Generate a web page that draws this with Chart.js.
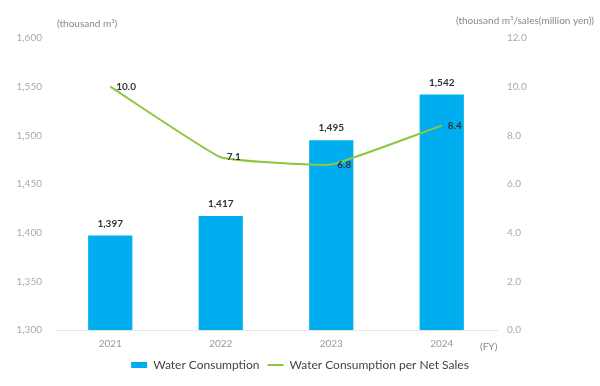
<!DOCTYPE html>
<html>
<head>
<meta charset="utf-8">
<script src="https://cdn.jsdelivr.net/npm/chart.js@4"></script>
<style>
  html, body { margin: 0; padding: 0; background: #fff; }
  #wrap { width: 600px; height: 386px; }
</style>
</head>
<body>
<div id="wrap"><canvas id="waterChart"></canvas></div>
<script>
// data
const years = ['2021', '2022', '2023', '2024'];
const waterUse = [1397, 1417, 1495, 1542];        // thousand m3
const waterPerSales = [10.0, 7.1, 6.8, 8.4];      // thousand m3 / sales (million yen)

const BLUE = '#00aeef';
const GREEN = '#8dc63f';
const FONT = "Lato, 'Open Sans', sans-serif";

// axis titles, (FY) and value labels
const extras = {
    id: 'extras',
    afterDatasetsDraw(chart) {
        const ctx = chart.ctx;
        const area = chart.chartArea;
        ctx.save();

        // bar values
        ctx.font = 'bold 10px ' + FONT;
        ctx.fillStyle = '#333';
        ctx.textAlign = 'center';
        ctx.textBaseline = 'middle';
        chart.getDatasetMeta(0).data.forEach((bar, i) => {
            ctx.fillText(waterUse[i].toLocaleString('en-US'), bar.x, bar.y - 12);
        });

        // line values, right of each point
        ctx.textAlign = 'left';
        chart.getDatasetMeta(1).data.forEach((pt, i) => {
            ctx.fillText(waterPerSales[i].toFixed(1), pt.x + 6, pt.y);
        });

        // axis titles
        ctx.font = '10px ' + FONT;
        ctx.fillStyle = '#888';
        ctx.textAlign = 'left';
        ctx.fillText('(thousand m³)', 57, 24);
        ctx.textAlign = 'right';
        ctx.fillText('(thousand m³/sales(million yen))', 594, 21);
        ctx.textAlign = 'left';
        ctx.fillText('(FY)', area.right - 17, 347);
        ctx.restore();
    }
};

new Chart(document.getElementById('waterChart'), {
    data: {
        labels: years,
        datasets: [
            {
                type: 'bar',
                label: 'Water Consumption',
                data: waterUse,
                backgroundColor: BLUE,
                borderWidth: 0,
                barPercentage: 0.4,
                categoryPercentage: 1.0,
                pointStyle: 'rect',
                yAxisID: 'y',
                order: 2
            },
            {
                type: 'line',
                label: 'Water Consumption per Net Sales',
                data: waterPerSales,
                borderColor: GREEN,
                backgroundColor: GREEN,
                borderWidth: 2,
                pointRadius: 0,
                pointStyle: 'line',
                tension: 0.1,
                yAxisID: 'y1',
                order: 1
            }
        ]
    },
    options: {
        responsive: true,
        maintainAspectRatio: false,
        animation: false,
        layout: { padding: { top: 38, left: 0, right: 0, bottom: 5 } },
        scales: {
            x: {
                grid: { display: false, drawTicks: false },
                border: { display: true, color: '#e6e6e6', width: 1 },
                ticks: { color: '#999', font: { family: FONT, size: 10 }, padding: 8 },
                afterFit(scale) { scale.height = scale.height - 7; }
            },
            y: {
                position: 'left',
                min: 1300,
                max: 1600,
                grid: { display: false, drawTicks: false },
                border: { display: false },
                ticks: {
                    stepSize: 50,
                    color: '#aaa',
                    padding: 13,
                    font: { family: FONT, size: 10 },
                    callback: v => v.toLocaleString('en-US')
                },
                afterFit(scale) { scale.width = 55; }
            },
            y1: {
                position: 'right',
                min: 0,
                max: 12,
                grid: { display: false, drawTicks: false },
                border: { display: false },
                ticks: {
                    stepSize: 2,
                    color: '#aaa',
                    padding: 10,
                    font: { family: FONT, size: 10 },
                    callback: v => v.toFixed(1)
                },
                afterFit(scale) { scale.width = 103; }
            }
        },
        plugins: {
            legend: {
                position: 'bottom',
                labels: {
                    usePointStyle: true,
                    pointStyleWidth: 16,
                    boxHeight: 6,
                    padding: 8,
                    color: '#444',
                    font: { family: FONT, size: 12 },
                    sort: (a, b) => a.datasetIndex - b.datasetIndex
                }
            },
            tooltip: { enabled: false }
        }
    },
    plugins: [extras]
});
</script>
</body>
</html>
